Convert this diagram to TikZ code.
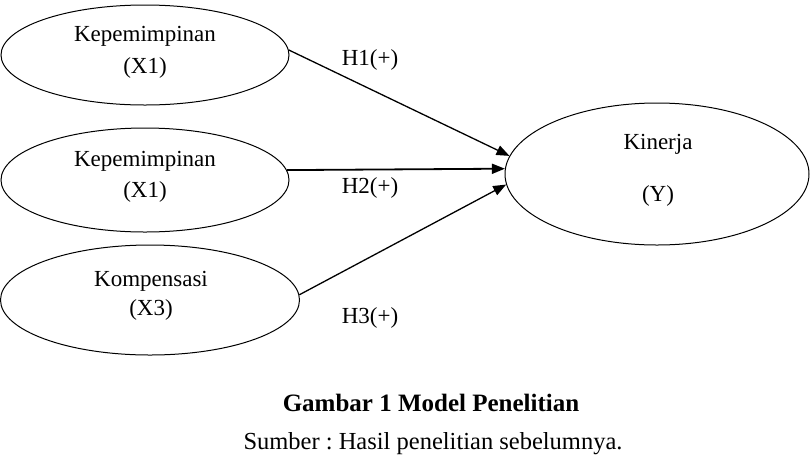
\documentclass[tikz,border=0pt]{standalone}
\usepackage{fontspec}
\setmainfont{Liberation Serif}
\usetikzlibrary{shapes.geometric,arrows.meta}
\frenchspacing
\begin{document}
\begin{tikzpicture}[x=1pt,y=-1pt,
  var/.style={draw,ellipse,line width=1pt,inner sep=0pt},
  txt/.style={inner sep=0pt,font=\fontsize{23}{26}\selectfont},
  conn/.style={line width=1.3pt,-{Triangle[length=13pt,width=10pt]}},
  hyp/.style={inner sep=0pt,font=\fontsize{23}{26}\selectfont}]
\useasboundingbox (0,0) rectangle (811,459);
\node[var,minimum width=288pt,minimum height=100pt] (e1) at (145,55) {};
\node[var,minimum width=288pt,minimum height=104pt] (e2) at (145,180) {};
\node[var,minimum width=299pt,minimum height=110pt] (e3) at (150,300) {};
\node[var,minimum width=304pt,minimum height=142pt] (y) at (657,174) {};
\node[txt] (t1a) at (145,36) {Kepemimpinan};
\node[txt] (t1b) at (145,68) {(X1)};
\node[txt] (t2a) at (145,161) {Kepemimpinan};
\node[txt] (t2b) at (145,192) {(X1)};
\node[txt] (t3a) at (151,281) {Kompensasi};
\node[txt] (t3b) at (151,310) {(X3)};
\node[txt] (tya) at (658,144) {Kinerja};
\node[txt] (tyb) at (658,196) {(Y)};
\draw[conn] (e1.2) -- (y.173.5);
\draw[conn,line width=1.8pt] (e2.4.4) -- (y.178);
\draw[conn] (e3.2) -- (y.184);
\node[hyp] (h1) at (370,60) {H1(+)};
\node[hyp] (h2) at (370,188) {H2(+)};
\node[hyp] (h3) at (370,318) {H3(+)};
\node[inner sep=0pt,font=\fontsize{25}{28}\selectfont\bfseries] (cap) at (431,403) {Gambar 1 Model Penelitian};
\node[inner sep=0pt,font=\fontsize{24.5}{28}\selectfont] (src) at (433,444) {Sumber : Hasil penelitian sebelumnya.};
\end{tikzpicture}
\end{document}
